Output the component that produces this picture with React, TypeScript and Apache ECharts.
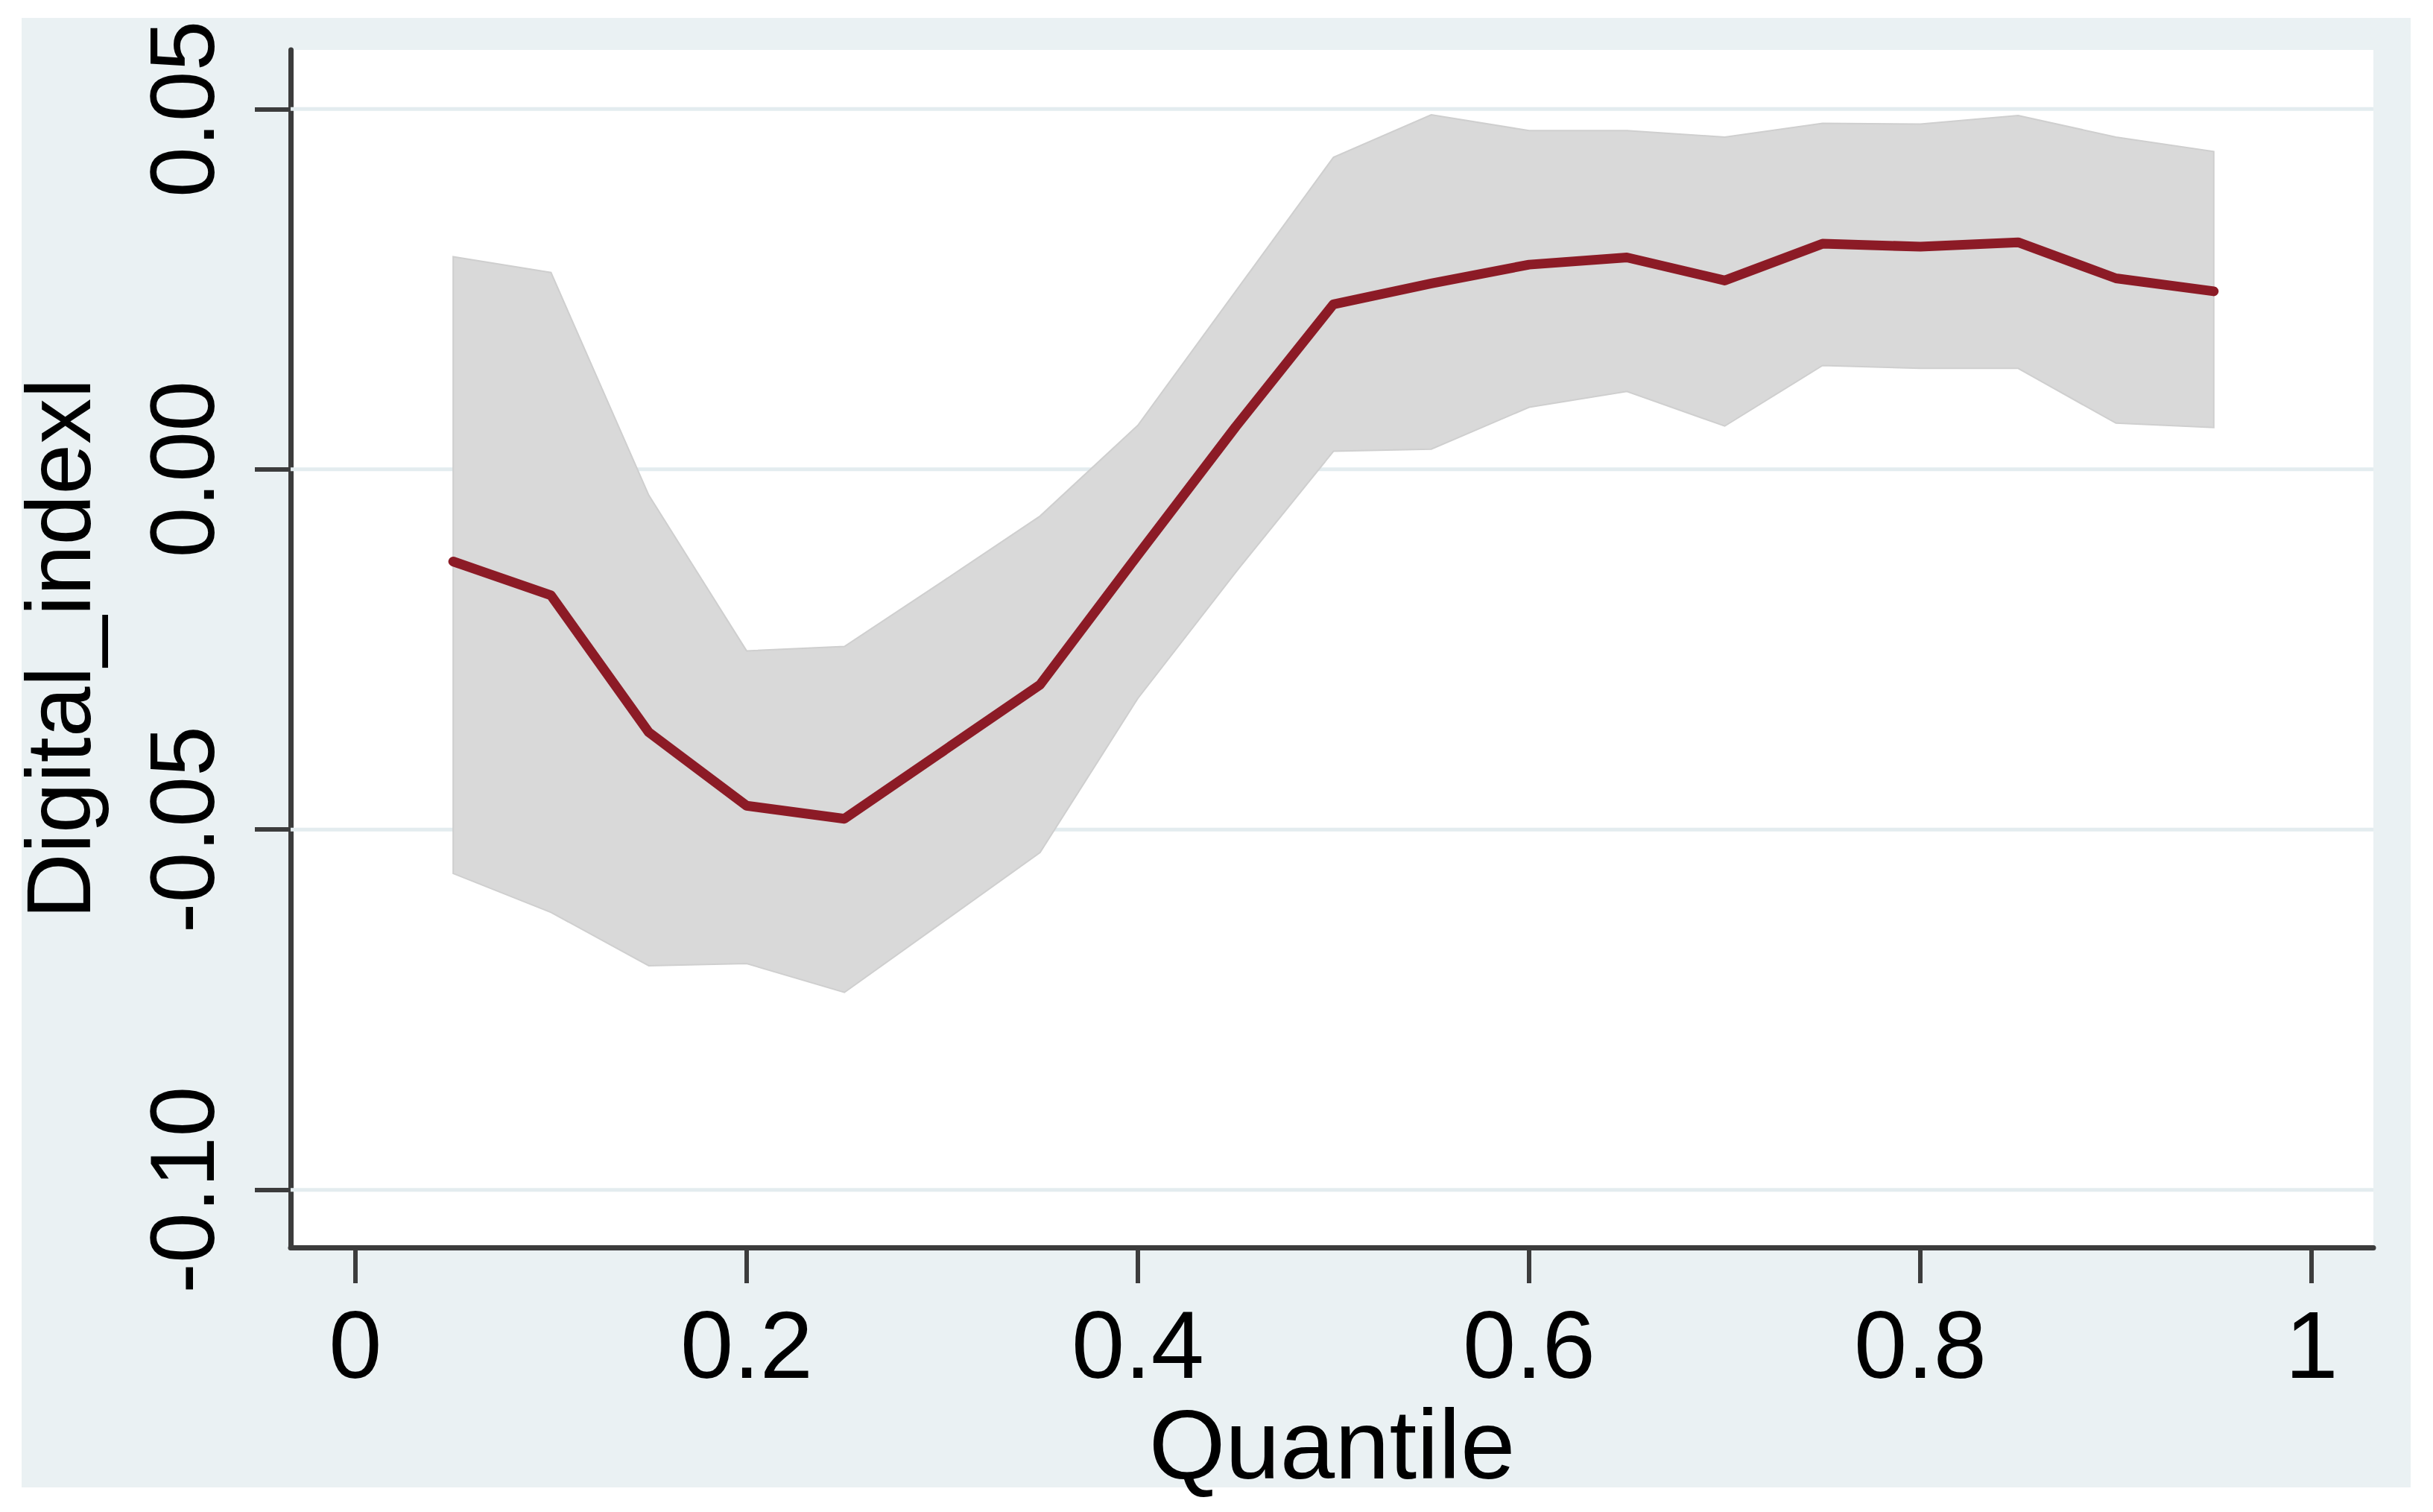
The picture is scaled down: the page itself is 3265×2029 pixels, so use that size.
import React, { useEffect, useRef } from "react";
import * as echarts from "echarts";

const quantiles = [0.05, 0.1, 0.15, 0.2, 0.25, 0.3, 0.35, 0.4, 0.45, 0.5, 0.55, 0.6, 0.65, 0.7, 0.75, 0.8, 0.85, 0.9, 0.95];
const coef = [-0.0128, -0.0175, -0.0365, -0.0467, -0.0485, -0.0392, -0.0299, -0.0119, 0.0059, 0.0229, 0.0258, 0.0284, 0.0294, 0.0262, 0.0313, 0.0309, 0.0315, 0.0265, 0.0247];
const upper = [0.0295, 0.0273, -0.0036, -0.0252, -0.0246, -0.0156, -0.0065, 0.0061, 0.0247, 0.0433, 0.0492, 0.047, 0.047, 0.0461, 0.048, 0.0479, 0.0491, 0.0461, 0.0441];
const lower = [-0.0561, -0.0615, -0.0689, -0.0686, -0.0726, -0.0629, -0.0532, -0.0318, -0.0143, 0.0025, 0.0028, 0.0086, 0.0108, 0.006, 0.0144, 0.014, 0.014, 0.0064, 0.0058];

const xTicks = [0, 0.2, 0.4, 0.6, 0.8, 1];
const yTicks = [-0.1, -0.05, 0, 0.05];

const X_MIN = -0.0331;
const X_MAX = 1.0316;
const Y_MIN = -0.108;
const Y_MAX = 0.0582;

const FONT = "'Liberation Sans', Arial, sans-serif";
const AXIS_COLOR = "#3c3c3c";
const GRID_COLOR = "#E3ECEF";

export default function App() {
  const ref = useRef<HTMLDivElement>(null);

  useEffect(() => {
    if (!ref.current) return;
    const chart = echarts.init(ref.current, undefined, { renderer: "svg" });

    const gridSeries = yTicks.map((v) => ({
      type: "line",
      silent: true,
      z: 1,
      symbol: "none",
      data: [
        [X_MIN, v],
        [X_MAX, v],
      ],
      lineStyle: { color: GRID_COLOR, width: 5 },
    }));

    const n = quantiles.length;

    const option: any = {
      animation: false,
      backgroundColor: "#ffffff",
      graphic: [
        {
          type: "rect",
          z: -10,
          silent: true,
          shape: { x: 29, y: 24, width: 3206, height: 1972 },
          style: { fill: "#EAF1F3" },
        },
      ],
      grid: {
        left: 390,
        top: 67,
        right: 80,
        bottom: 355,
        show: true,
        backgroundColor: "#ffffff",
        borderWidth: 0,
        containLabel: false,
        outerBoundsMode: "none",
      },
      xAxis: {
        type: "value",
        min: X_MIN,
        max: X_MAX,
        name: "Quantile",
        nameLocation: "middle",
        nameGap: 172,
        nameTextStyle: { fontSize: 132, color: "#000", fontFamily: FONT },
        axisLine: { show: true, onZero: false, lineStyle: { color: AXIS_COLOR, width: 7 } },
        axisTick: {
          show: true,
          length: 48,
          customValues: xTicks,
          lineStyle: { color: AXIS_COLOR, width: 6 },
        },
        axisLabel: {
          show: true,
          customValues: xTicks,
          margin: 66,
          fontSize: 128,
          color: "#000",
          fontFamily: FONT,
          formatter: (v: number) => String(v),
        },
        splitLine: { show: false },
      },
      yAxis: {
        type: "value",
        min: Y_MIN,
        max: Y_MAX,
        name: "Digital_indexl",
        nameLocation: "middle",
        nameGap: 250,
        nameTextStyle: { fontSize: 122, color: "#000", fontFamily: FONT },
        axisLine: { show: true, onZero: false, lineStyle: { color: AXIS_COLOR, width: 7 } },
        axisTick: {
          show: true,
          length: 48,
          customValues: yTicks,
          lineStyle: { color: AXIS_COLOR, width: 6 },
        },
        axisLabel: {
          show: true,
          customValues: yTicks,
          rotate: 90,
          margin: 84,
          fontSize: 122,
          color: "#000",
          fontFamily: FONT,
          formatter: (v: number) => v.toFixed(2),
        },
        splitLine: { show: false },
      },
      series: [
        ...gridSeries,
        {
          type: "custom",
          z: 2,
          silent: true,
          data: quantiles.map((q, i) => [q, lower[i], upper[i]]),
          encode: { x: 0, y: [1, 2] },
          renderItem: (params: any, api: any) => {
            if (params.dataIndex !== 0) return null;
            const pts: number[][] = [];
            for (let i = 0; i < n; i++) pts.push(api.coord([quantiles[i], upper[i]]));
            for (let i = n - 1; i >= 0; i--) pts.push(api.coord([quantiles[i], lower[i]]));
            return {
              type: "polygon",
              shape: { points: pts },
              style: { fill: "#D9D9D9", stroke: "#CFCFCF", lineWidth: 2 },
            };
          },
        },
        {
          type: "line",
          z: 3,
          silent: true,
          symbol: "none",
          data: quantiles.map((q, i) => [q, coef[i]]),
          lineStyle: { color: "#8C1B26", width: 13, cap: "round", join: "round" },
        },
      ],
    };

    chart.setOption(option);
    return () => chart.dispose();
  }, []);

  return (
    <div
      ref={ref}
      style={{ position: "fixed", left: 0, top: 0, width: 3265, height: 2029 }}
    />
  );
}
